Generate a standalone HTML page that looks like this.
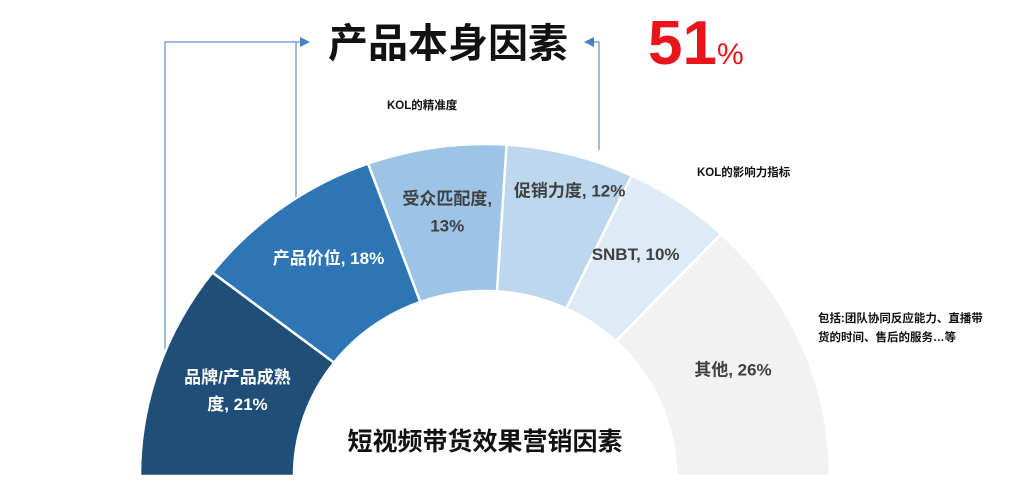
<!DOCTYPE html>
<html><head><meta charset="utf-8"><style>
html,body{margin:0;padding:0;background:#fff;}
body{width:1020px;height:482px;overflow:hidden;font-family:"Liberation Sans","Noto Sans CJK SC",sans-serif;}
</style></head><body>
<svg id="c" width="1020" height="482" xmlns="http://www.w3.org/2000/svg" style="font-family:'Liberation Sans','Noto Sans CJK SC',sans-serif">
<g stroke="#5b8fd0" stroke-width="1.2" fill="none">
<polyline points="165,385 165,42 302,42"/>
<line x1="296" y1="42" x2="296" y2="220"/>
<polyline points="599,150 599,42 592,42"/>
</g>
<polygon points="310,42 300,37 300,47" fill="#4a7fc4"/>
<polygon points="584,42 594,37 594,47" fill="#4a7fc4"/>
<text x="448" y="57" text-anchor="middle" font-size="40" font-weight="bold" fill="#111">产品本身因素</text>
<text x="648" y="64" font-size="62" font-weight="bold" fill="#e8161b">51<tspan font-size="30" font-weight="normal">%</tspan></text>
<g id="slices"></g>
<g id="labels"></g>
<text x="387" y="109" font-size="11.5" font-weight="bold" fill="#111">KOL的精准度</text>
<text x="697" y="176" font-size="11.5" font-weight="bold" fill="#111">KOL的影响力指标</text>
<text x="818" y="322" font-size="11.5" font-weight="bold" fill="#111">包括:团队协同反应能力、直播带</text>
<text x="818" y="341" font-size="11.5" font-weight="bold" fill="#111">货的时间、售后的服务…等</text>
<text x="485" y="450" text-anchor="middle" font-size="25" font-weight="bold" fill="#111">短视频带货效果营销因素</text>
</svg>
<script>
const categories=["品牌/产品成熟度","产品价位","受众匹配度","促销力度","SNBT","其他"];
const values=[21,18,13,12,10,26];
const valueLabels=["21%","18%","13%","12%","10%","26%"];
const colors=["#1f4e79","#2e75b6","#9dc3e6","#bdd7ee","#deebf7","#f2f2f2"];
const cx=485,cy=476,rxO=345,ryO=332,rxI=191,ryI=185;
const NS="http://www.w3.org/2000/svg";
const total=values.reduce((a,b)=>a+b,0);
function pt(a,rx,ry){return [cx+rx*Math.cos(a),cy-ry*Math.sin(a)];}
const sg=document.getElementById('slices'),lg=document.getElementById('labels');
let acc=0;
values.forEach((v,i)=>{
 const a0=Math.PI*(1-acc/total),a1=Math.PI*(1-(acc+v)/total);acc+=v;
 const p0=pt(a0,rxO,ryO),p1=pt(a1,rxO,ryO),q1=pt(a1,rxI,ryI),q0=pt(a0,rxI,ryI);
 const d=`M${p0} A${rxO},${ryO} 0 0 1 ${p1} L${q1} A${rxI},${ryI} 0 0 0 ${q0} Z`;
 const p=document.createElementNS(NS,'path');
 p.setAttribute('d',d);p.setAttribute('fill',colors[i]);p.setAttribute('stroke','#fff');p.setAttribute('stroke-width','2.5');
 
 
 sg.appendChild(p);
 const am=(a0+a1)/2,m=pt(am,(rxO+rxI)/2,(ryO+ryI)/2);
 const light=i>=2;
 let lines;
 if(i===0)lines=["品牌/产品成熟","度, "+valueLabels[i]];
 else if(i===2)lines=[categories[i]+",",valueLabels[i]];
 else lines=[categories[i]+", "+valueLabels[i]];
 const off=[[6,-2],[1,-9],[0,-8],[18,-35],[0,-8],[2,-4]][i];
 lines.forEach((s,k)=>{
  const t=document.createElementNS(NS,'text');
  t.setAttribute('x',m[0]+off[0]);t.setAttribute('y',m[1]+off[1]+6+(k-(lines.length-1)/2)*27);
  t.setAttribute('text-anchor','middle');t.setAttribute('font-size','17');t.setAttribute('font-weight','bold');
  t.setAttribute('fill',light?'#404040':'#fff');
  t.textContent=s;
  
  
  lg.appendChild(t);
 });
});
</script>
</body></html>
